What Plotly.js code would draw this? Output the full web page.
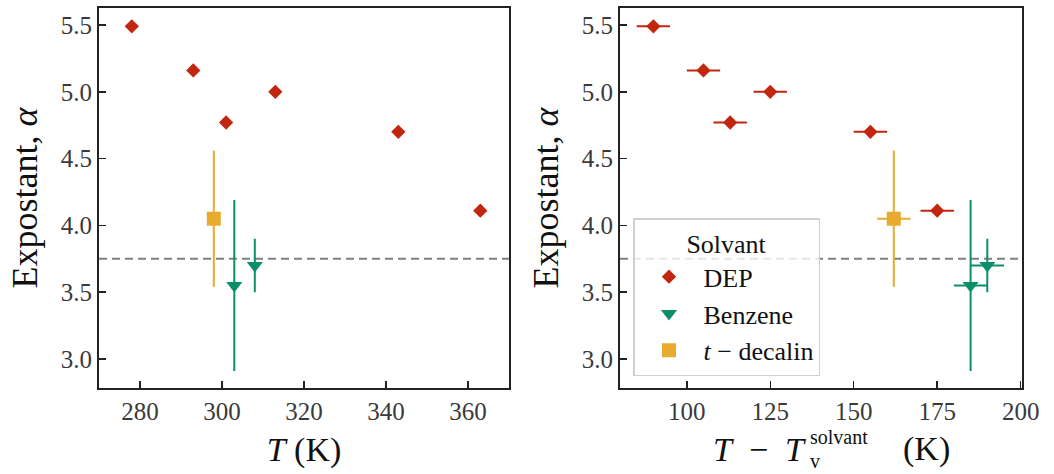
<!DOCTYPE html>
<html>
<head>
<meta charset="utf-8">
<script src="https://cdn.plot.ly/plotly-3.0.1.min.js"></script>
<style>html,body{margin:0;padding:0;background:#fff;}#chart{width:1054px;height:474px;}</style>
</head>
<body>
<div id="chart"></div>
<script>
// ---- data ----
const T_DEP = [278, 293, 301, 313, 343, 363];
const dT_DEP = [90, 105, 113, 125, 155, 175];
const alpha_DEP = [5.49, 5.16, 4.77, 5.00, 4.70, 4.11];
const xerr_DEP = [5, 5, 5, 5, 5, 5];

const T_benz = [303, 308];
const dT_benz = [185, 190];
const alpha_benz = [3.55, 3.70];
const yerr_benz = [0.64, 0.20];
const xerr_benz = [5, 5];

const T_dec = [298];
const dT_dec = [162];
const alpha_dec = [4.05];
const yerr_dec = [0.51];
const xerr_dec = [5];

const refAlpha = 3.75;
const names = ["DEP", "Benzene", "<i>t</i> − decalin"];

const cRed = "#c3260f", cGreen = "#0a8f6b", cOrange = "#e8ab2e";
const FONT = "Liberation Serif, Times New Roman, serif";

function yErr(arr, col) {
  return arr ? {type: "data", array: arr, visible: true, color: col, thickness: 2, width: 0} : {visible: false};
}
function xErr(arr, col) {
  return arr ? {type: "data", array: arr, visible: true, color: col, thickness: 2, width: 0} : {visible: false};
}

const traces = [
  // left panel
  {x: T_DEP, y: alpha_DEP, type: "scatter", mode: "markers", xaxis: "x", yaxis: "y", showlegend: false,
   marker: {symbol: "diamond", size: 11, color: cRed}},
  {x: T_benz, y: alpha_benz, type: "scatter", mode: "markers", xaxis: "x", yaxis: "y", showlegend: false,
   error_y: yErr(yerr_benz, cGreen), marker: {symbol: "triangle-down", size: 14, color: cGreen}},
  {x: T_dec, y: alpha_dec, type: "scatter", mode: "markers", xaxis: "x", yaxis: "y", showlegend: false,
   error_y: yErr(yerr_dec, cOrange), marker: {symbol: "square", size: 14, color: cOrange}},
  // right panel
  {x: dT_DEP, y: alpha_DEP, type: "scatter", mode: "markers", xaxis: "x2", yaxis: "y2", name: names[0], legendgroup: "a",
   error_x: xErr(xerr_DEP, cRed), marker: {symbol: "diamond", size: 11, color: cRed}},
  {x: dT_benz, y: alpha_benz, type: "scatter", mode: "markers", xaxis: "x2", yaxis: "y2", name: names[1], legendgroup: "b",
   error_x: xErr(xerr_benz, cGreen), error_y: yErr(yerr_benz, cGreen), marker: {symbol: "triangle-down", size: 14, color: cGreen}},
  {x: dT_dec, y: alpha_dec, type: "scatter", mode: "markers", xaxis: "x2", yaxis: "y2", name: names[2], legendgroup: "c",
   error_x: xErr(xerr_dec, cOrange), error_y: yErr(yerr_dec, cOrange), marker: {symbol: "square", size: 14, color: cOrange}}
];

const W = 1054, ML = 99, MR = 32;
const PW = W - ML - MR;
const axCommon = {
  showline: true, linecolor: "#222", linewidth: 2, mirror: true,
  ticks: "inside", ticklen: 7, tickwidth: 1.5, tickcolor: "#222",
  showgrid: false, zeroline: false,
  tickfont: {family: FONT, size: 25, color: "#3a3a3a"}
};
const yTicks = [3.0, 3.5, 4.0, 4.5, 5.0, 5.5];
const titleFont = {family: FONT, size: 36, color: "#111"};

const layout = {
  width: 1054, height: 474,
  margin: {l: ML, r: MR, t: 8, b: 86},
  paper_bgcolor: "#fff", plot_bgcolor: "#fff",
  font: {family: FONT, color: "#111"},
  xaxis: Object.assign({}, axCommon, {domain: [0, 410 / PW], range: [270, 370], tickvals: [280, 300, 320, 340, 360],
    anchor: "y", title: {text: "<i>T</i> (K)", font: {family: FONT, size: 34, color: "#111"}, standoff: 13}}),
  yaxis: Object.assign({}, axCommon, {domain: [0, 1], range: [2.783, 5.627], tickvals: yTicks, ticktext: yTicks.map(v => v.toFixed(1)),
    anchor: "x", title: {text: "Expostant, <i>α</i>", font: titleFont, standoff: 12}}),
  xaxis2: Object.assign({}, axCommon, {domain: [(620 - ML) / PW, 1], range: [80, 200.4], tickvals: [100, 125, 150, 175, 200],
    anchor: "y2", title: {text: ""}}),
  yaxis2: Object.assign({}, axCommon, {domain: [0, 1], range: [2.783, 5.627], tickvals: yTicks, ticktext: yTicks.map(v => v.toFixed(1)),
    anchor: "x2", title: {text: "Expostant, <i>α</i>", font: titleFont, standoff: 12}}),
  shapes: [
    {type: "line", xref: "x domain", yref: "y", x0: 0, x1: 1, y0: refAlpha, y1: refAlpha,
     line: {color: "#808080", width: 2, dash: "8px,5px"}, layer: "below"},
    {type: "line", xref: "x2 domain", yref: "y2", x0: 0, x1: 1, y0: refAlpha, y1: refAlpha,
     line: {color: "#808080", width: 2, dash: "8px,5px"}, layer: "below"}
  ],
  annotations: [
    {xref: "paper", yref: "paper", x: (808 - ML) / PW, y: (388 - 449) / 380, xanchor: "right", yanchor: "middle",
     text: "<i>T</i>  −  <i>T</i>", showarrow: false, font: {family: FONT, size: 34, color: "#111"}},
    {xref: "paper", yref: "paper", x: (808 - ML) / PW, y: (388 - 437) / 380, xanchor: "left", yanchor: "middle",
     text: "solvant", showarrow: false, font: {family: FONT, size: 20, color: "#111"}},
    {xref: "paper", yref: "paper", x: (808 - ML) / PW, y: (388 - 474) / 380, xanchor: "left", yanchor: "bottom",
     text: "v", showarrow: false, font: {family: FONT, size: 20, color: "#111"}},
    {xref: "paper", yref: "paper", x: (901 - ML) / PW, y: (388 - 449) / 380, xanchor: "left", yanchor: "middle",
     text: "(K)", showarrow: false, font: {family: FONT, size: 34, color: "#111"}}
  ],
  legend: {
    x: (633 - ML) / PW, y: (388 - 218) / 380, xanchor: "left", yanchor: "top",
    bgcolor: "rgba(255,255,255,0.8)", bordercolor: "#d0d0d0", borderwidth: 1.5,
    font: {family: FONT, size: 26, color: "#111"},
    title: {text: "Solvant", side: "top center", font: {family: FONT, size: 26, color: "#111"}},
    traceorder: "grouped", tracegroupgap: 0, itemwidth: 59
  }
};

Plotly.newPlot("chart", traces, layout, {displayModeBar: false, staticPlot: true});
</script>
</body>
</html>
